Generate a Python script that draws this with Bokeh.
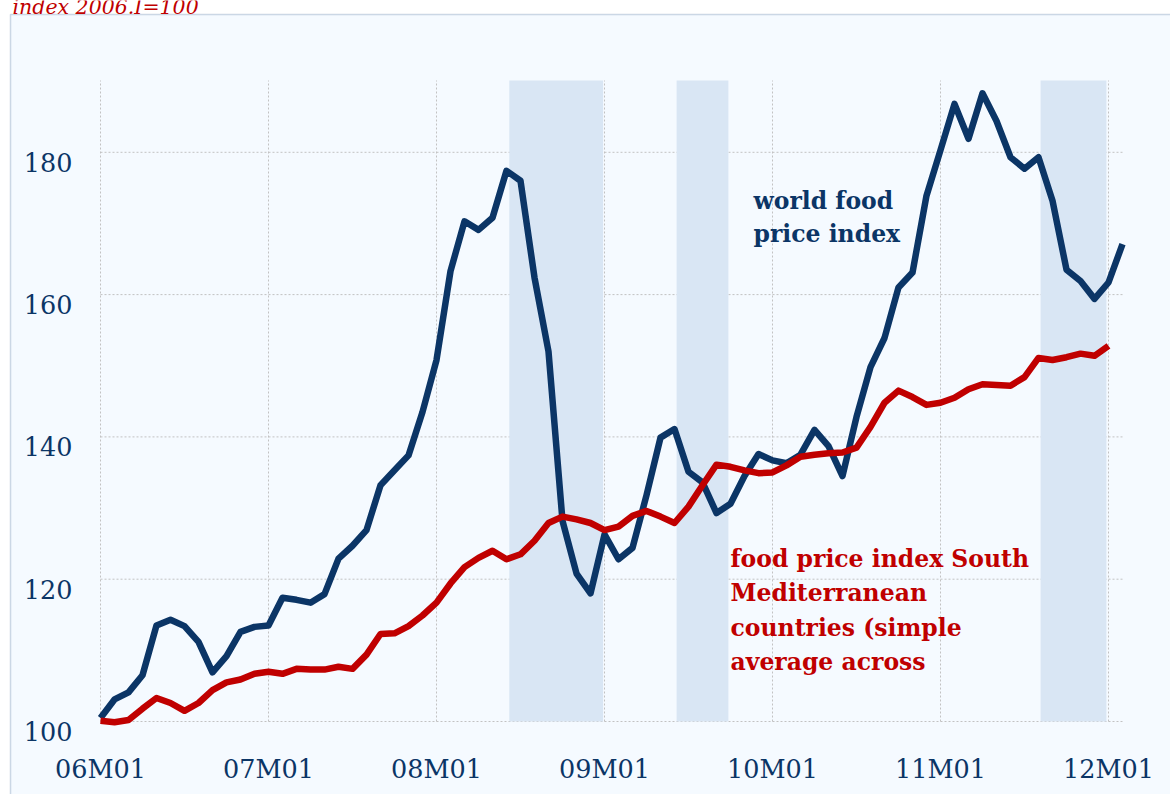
from bokeh.plotting import figure
from bokeh.models import Range1d, BoxAnnotation
from bokeh.embed import file_html
from bokeh.resources import INLINE
from bokeh.core.properties import value

# ---------------- data ----------------
tick_months = [0, 12, 24, 36, 48, 60, 72]
tick_labels = ["06M01", "07M01", "08M01", "09M01", "10M01", "11M01", "12M01"]
y_ticks = [100, 120, 140, 160, 180]
y_tick_labels = ["100", "120", "140", "160", "180"]

world_food = [
    100.5, 103.1, 104.1, 106.5, 113.5, 114.3, 113.4, 111.2, 106.9, 109.2, 112.6, 113.3,
    113.5, 117.4, 117.1, 116.7, 117.9, 122.9, 124.7, 126.9, 133.2, 135.3, 137.4, 143.5,
    150.8, 163.3, 170.3, 169.1, 170.8, 177.4, 176.0, 162.4, 152.0, 128.2, 120.8, 118.0,
    126.3, 122.8, 124.4, 131.8, 139.9, 141.1, 135.1, 133.6, 129.3, 130.6, 134.5, 137.6,
    136.7, 136.3, 137.5, 141.0, 138.7, 134.5, 142.8, 149.8, 153.9, 161.0, 163.1, 173.9,
    180.3, 186.8, 181.9, 188.3, 184.4, 179.3, 177.7, 179.3, 173.2, 163.5, 161.9, 159.4,
    161.7, 167.1,
]
south_med = [
    100.1, 99.9, 100.2, 101.8, 103.3, 102.6, 101.5, 102.6, 104.4, 105.5, 105.9, 106.7,
    107.0, 106.7, 107.4, 107.3, 107.3, 107.7, 107.4, 109.4, 112.3, 112.4, 113.4, 114.9,
    116.7, 119.4, 121.7, 123.0, 124.0, 122.8, 123.5, 125.4, 127.9, 128.8, 128.4, 127.9,
    126.9, 127.4, 128.9, 129.6, 128.8, 127.9, 130.2, 133.2, 136.1, 135.8, 135.3, 134.9,
    135.0, 136.0, 137.2, 137.5, 137.7, 137.8, 138.5, 141.4, 144.8, 146.5, 145.6, 144.5,
    144.8, 145.5, 146.7, 147.4, 147.3, 147.2, 148.4, 151.1, 150.8, 151.2, 151.7, 151.4,
    152.8,
]
months_world = list(range(len(world_food)))
months_med = list(range(len(south_med)))

# shaded periods (months since 2006M01)
band_start = [29.2, 41.15, 67.15]
band_end = [35.9, 44.85, 71.85]

world_label = ["world food", "price index"]
med_label = ["food price index South", "Mediterranean", "countries (simple", "average across"]
title_text = ["index 2006.I=100"]

# ---------------- layout / styling ----------------
NAVY = "#0b3566"
RED = "#c00000"
BG = "#f5faff"
GRID = "#c2c2c2"
FONT = "DejaVu Serif"
W, H = 1170, 794

# The data frame covers the whole canvas; page pixel helpers for placement.
PX_MONTH = 14.0      # pixels per month
PX_UNIT = 7.115      # pixels per index point
X_ORIGIN = 100       # pixel of 06M01
Y_ORIGIN = 721       # pixel of index 100


def mx(px):
    return (px - X_ORIGIN) / PX_MONTH


def vy(py):
    return 100 + (Y_ORIGIN - py) / PX_UNIT


X_END = mx(1122)     # right end of plotting area
Y_TOP = vy(80)       # top of plotting area

p = figure(width=W, height=H, output_backend="svg", toolbar_location=None,
           x_range=Range1d(mx(0), mx(W)), y_range=Range1d(vy(H), vy(0)),
           x_axis_type=None, y_axis_type=None,
           min_border=0, min_border_left=0, min_border_right=0,
           min_border_top=0, min_border_bottom=0)
p.border_fill_color = "white"
p.background_fill_color = "white"
p.outline_line_color = None

# light panel with its frame line (left and top edges visible)
p.add_layout(BoxAnnotation(left=mx(10), top=vy(14), right=mx(W + 40), bottom=vy(H + 40),
                           fill_color=BG, fill_alpha=1.0,
                           line_color="#5f80a8", line_width=1.5, level="underlay"))

# grid lines at the tick positions
p.segment(x0=tick_months, y0=[y_ticks[0]] * len(tick_months),
          x1=tick_months, y1=[Y_TOP] * len(tick_months),
          line_color=GRID, line_width=1, line_dash="2 2")
p.segment(x0=[0] * len(y_ticks), y0=y_ticks, x1=[X_END] * len(y_ticks), y1=y_ticks,
          line_color=GRID, line_width=1, line_dash="2 2")

# shaded bands
p.quad(left=band_start, right=band_end, bottom=y_ticks[0], top=Y_TOP,
       fill_color="#d9e6f4", line_color=None)

# series
p.line(months_world, world_food, line_color=NAVY, line_width=6.5, line_join="round")
p.line(months_med, south_med, line_color=RED, line_width=6.5, line_join="round")

# tick labels
p.text(x=tick_months, y=[vy(768)] * len(tick_months), text=tick_labels,
       text_font=value(FONT), text_font_size="25.5px", text_color=NAVY,
       text_align="center", text_baseline="alphabetic")
p.text(x=[mx(72)] * len(y_ticks), y=[t - 10 / PX_UNIT for t in y_ticks], text=y_tick_labels,
       text_font=value(FONT), text_font_size="25.5px", text_color=NAVY,
       text_align="right", text_baseline="alphabetic")

# in-plot labels
p.text(x=[mx(753)] * 2, y=[vy(200), vy(233)], text=world_label,
       text_font=value(FONT), text_font_style="bold", text_font_size="23.5px",
       text_color=NAVY, text_baseline="alphabetic", text_align="left")
p.text(x=[mx(730)] * 4, y=[vy(558), vy(592.5), vy(627), vy(661)], text=med_label,
       text_font=value(FONT), text_font_style="bold", text_font_size="23.5px",
       text_color=RED, text_baseline="alphabetic", text_align="left")

# unit note at the very top (partly cut, as in the original)
p.text(x=[mx(12)], y=[vy(6.5)], text=title_text,
       text_font=value(FONT), text_font_style="italic", text_font_size="20.5px",
       text_color=RED, text_baseline="alphabetic", text_align="left")

open("out.html", "w").write(file_html(p, INLINE))
